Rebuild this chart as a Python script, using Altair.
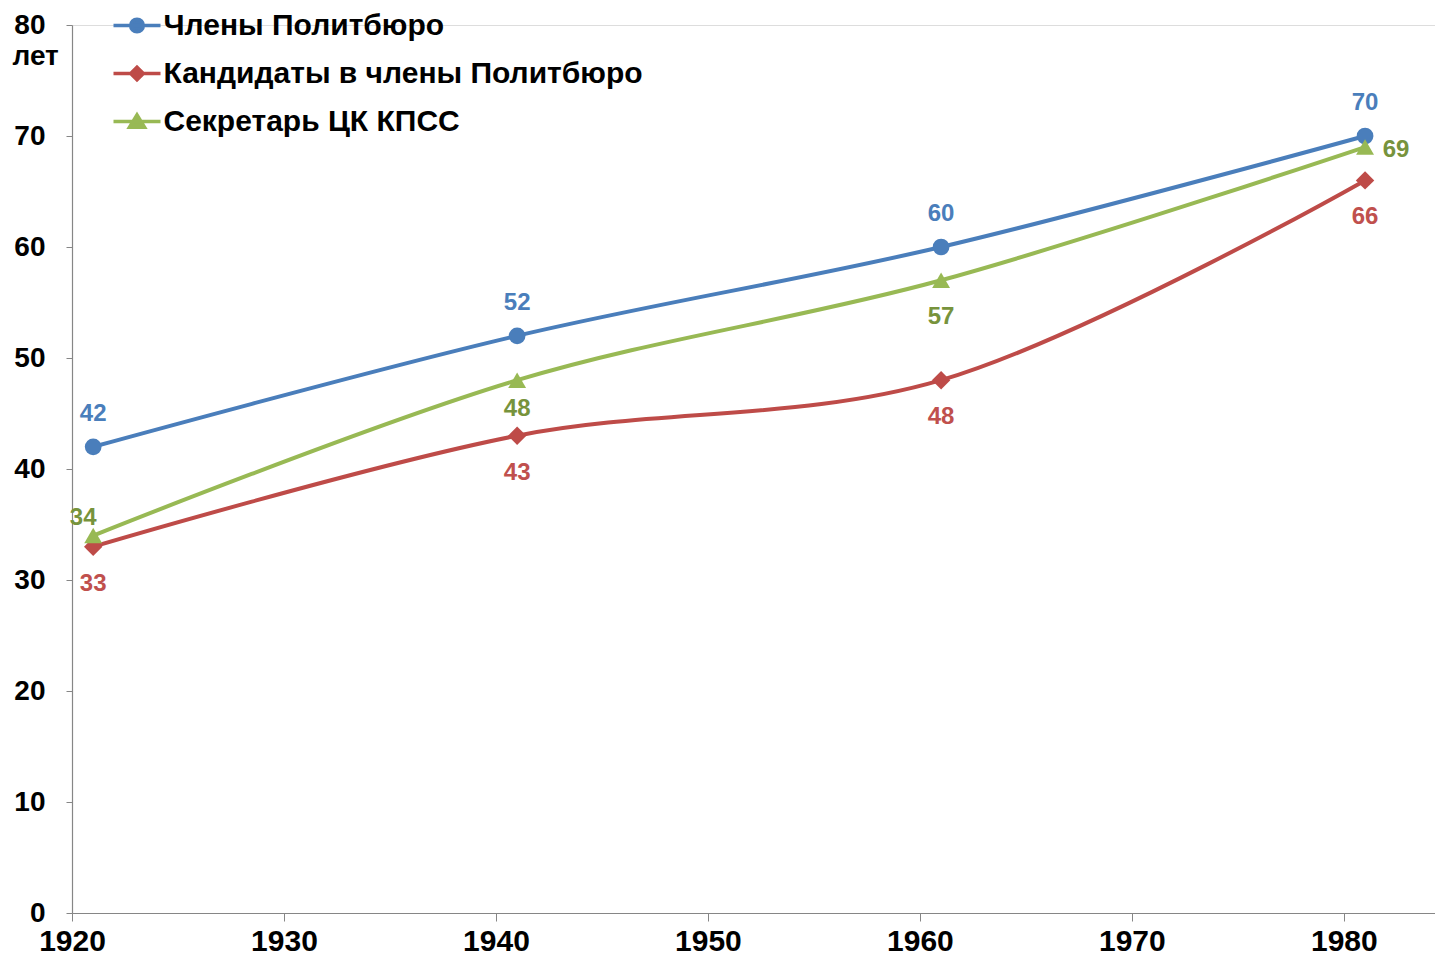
import math
import altair as alt
import pandas as pd

# ---- data ----
years = [1921, 1941, 1961, 1981]
members = [42, 52, 60, 70]
candidates = [33, 43, 48, 66]
secretaries = [34, 48, 57, 69]
series_names = ["Члены Политбюро", "Кандидаты в члены Политбюро", "Секретарь ЦК КПСС"]
x_ticks = [1920, 1930, 1940, 1950, 1960, 1970, 1980]
y_ticks = [0, 10, 20, 30, 40, 50, 60, 70, 80]
y_unit = "лет"

line_colors = ["#4A7EBB", "#BE4B48", "#98B954"]
label_colors = ["#4A7EBB", "#C0504D", "#77933C"]

rows = []
for name, vals in zip(series_names, [members, candidates, secretaries]):
    for yr, v in zip(years, vals):
        rows.append({"year": yr, "age": v, "series": name})
df = pd.DataFrame(rows)

FONT = "Liberation Sans"
AXIS_GREY = "#868686"


def circle_path(r):
    k = round(0.5523 * r, 4)
    return (f"M{-r},0C{-r},{-k},{-k},{-r},0,{-r}C{k},{-r},{r},{-k},{r},0"
            f"C{r},{k},{k},{r},0,{r}C{-k},{r},{-r},{k},{-r},0Z")


legend_paths = [
    "M-1,0L1,0" + circle_path(0.27),
    "M-1,0L1,0M0,-0.27L0.27,0L0,0.27L-0.27,0Z",
    "M-1,0L1,0M0,-0.28L0.32,0.24L-0.32,0.24Z",
]

x_enc = alt.X(
    "year:Q",
    scale=alt.Scale(domain=[1920, 1984.3], nice=False, zero=False),
    axis=alt.Axis(
        values=x_ticks, format="d", title=None, grid=False,
        labelFont=FONT, labelFontSize=30, labelFontWeight="bold", labelColor="#000000",
        labelFlush=False, labelOverlap=False, labelPadding=5,
        domainColor=AXIS_GREY, tickColor=AXIS_GREY, tickSize=8, domainWidth=1.2,
    ),
)
y_enc = alt.Y(
    "age:Q",
    scale=alt.Scale(domain=[0, 80], nice=False),
    axis=alt.Axis(
        values=y_ticks, title=y_unit, grid=False,
        titleAngle=0, titleAlign="left", titleBaseline="middle",
        titleX=-60, titleY=31, titleFont=FONT, titleFontSize=28,
        titleFontWeight="bold", titleColor="#000000",
        labelFont=FONT, labelFontSize=28, labelFontWeight="bold", labelColor="#000000",
        labelPadding=21, labelOverlap=False,
        domainColor=AXIS_GREY, tickColor=AXIS_GREY, tickSize=6, domainWidth=1.2,
    ),
)
color_scale = alt.Scale(domain=series_names, range=line_colors)

base = alt.Chart(df)

lines = base.mark_line(strokeWidth=4, interpolate="catmull-rom").encode(
    x=x_enc, y=y_enc,
    color=alt.Color("series:N", scale=color_scale, legend=None),
)

shapes = ["circle", "diamond", "triangle-up"]
sizes = [280, 340, 320]
point_layers = []
for name, shp, sz in zip(series_names, shapes, sizes):
    point_layers.append(
        base.transform_filter(alt.datum.series == name)
        .mark_point(shape=shp, filled=True, size=sz, opacity=1)
        .encode(x=x_enc, y=y_enc,
                color=alt.Color("series:N", scale=color_scale, legend=None))
    )

legend_def = alt.Legend(
    title=None, orient="none", legendX=39.5, legendY=-25, padding=0,
    labelFont=FONT, labelFontSize=30, labelFontWeight="bold", labelColor="#000000",
    labelOffset=1, symbolSize=2209, symbolStrokeWidth=3.5, symbolOpacity=1,
    rowPadding=7, labelLimit=800,
)
legend_layer = base.mark_point(filled=True, opacity=0, strokeWidth=3.5).encode(
    x=x_enc, y=y_enc,
    fill=alt.Fill("series:N", scale=alt.Scale(domain=series_names, range=line_colors), legend=legend_def),
    stroke=alt.Stroke("series:N", scale=alt.Scale(domain=series_names, range=line_colors), legend=legend_def),
    shape=alt.Shape("series:N", scale=alt.Scale(domain=series_names, range=legend_paths), legend=legend_def),
)


def labels(name, color, dx, dy, only_years=None):
    src = base.transform_filter(alt.datum.series == name)
    if only_years is not None:
        src = src.transform_filter(alt.FieldOneOfPredicate(field="year", oneOf=only_years))
    return src.mark_text(
        font=FONT, fontSize=24, fontWeight="bold", color=color,
        dx=dx, dy=dy, align="center", baseline="middle",
    ).encode(x=x_enc, y=y_enc, text=alt.Text("age:Q", format="d"))


label_layers = [
    labels(series_names[0], label_colors[0], 0, -33),
    labels(series_names[1], label_colors[1], 0, 37),
    labels(series_names[2], label_colors[2], -10, -18, [1921]),
    labels(series_names[2], label_colors[2], 0, 29, [1941]),
    labels(series_names[2], label_colors[2], 0, 37, [1961]),
    labels(series_names[2], label_colors[2], 31, 3, [1981]),
]

chart = alt.layer(legend_layer, lines, *point_layers, *label_layers).properties(
    width=1363, height=888,
    padding={"left": 64, "top": 17, "right": 0, "bottom": 47},
    autosize=alt.AutoSizeParams(type="none"),
).configure_view(strokeWidth=0).configure(background="#FFFFFF")

chart.save("out.html", embed_options={"renderer": "svg", "actions": False})
